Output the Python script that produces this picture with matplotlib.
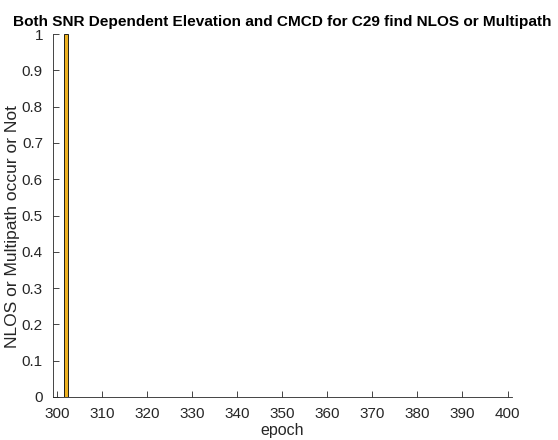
import matplotlib
matplotlib.use("Agg")
import matplotlib.pyplot as plt
import numpy as np

epochs = list(range(301, 401))
flags = [0] * len(epochs)
flags[epochs.index(302)] = 1

xticks = list(range(300, 401, 10))
yticks = [round(0.1 * i, 1) for i in range(11)]

plt.rcParams['font.family'] = ['Liberation Sans', 'DejaVu Sans']
axcol = (0.15, 0.15, 0.15)

fig = plt.figure(figsize=(5.58, 4.40), dpi=100)
ax = fig.add_axes([0.0944, 1 - 397 / 440, 0.9176 - 0.0944, (397 - 34) / 440])
ax.bar(epochs, flags, width=0.8, color=(0.929, 0.694, 0.125), edgecolor='black', linewidth=0.6)

ax.set_xlim(299, 401)
ax.set_ylim(0, 1)
ax.set_xticks(xticks)
ax.set_xticklabels([str(t) for t in xticks])
ax.set_yticks(yticks)
ax.set_yticklabels([f"{t:g}" for t in yticks])
for s in ['top', 'right']:
    ax.spines[s].set_visible(False)
for s in ['left', 'bottom']:
    ax.spines[s].set_color(axcol)
    ax.spines[s].set_linewidth(0.6)
ax.tick_params(direction='in', length=4, width=0.6, colors=axcol, labelsize=11)
ax.tick_params(axis='x', pad=7)
ax.tick_params(axis='y', pad=7)
ax.set_xlabel('epoch', fontsize=11.5, color=axcol, labelpad=2)
ax.set_ylabel('NLOS or Multipath occur or Not', fontsize=12.5, color=axcol, labelpad=2)
ax.yaxis.set_label_coords(-0.072, 0.47)
ax.set_title('Both SNR Dependent Elevation and CMCD for C29 find NLOS or Multipath',
             fontsize=11.1, fontweight='bold', pad=6)
fig.savefig('out.png', dpi=100)
